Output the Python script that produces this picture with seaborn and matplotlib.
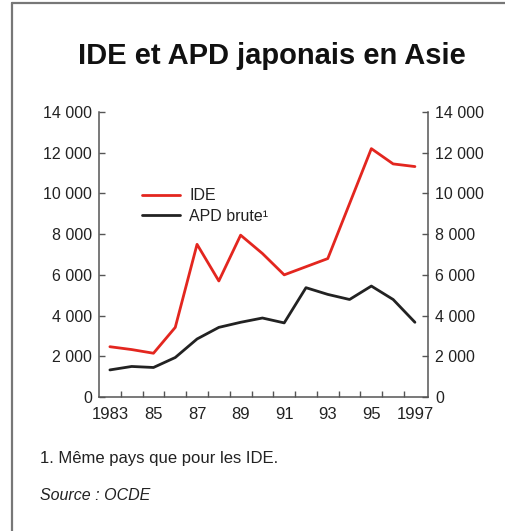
import matplotlib
matplotlib.use("Agg")
import matplotlib.pyplot as plt
import seaborn as sns
import pandas as pd
from matplotlib.lines import Line2D

years = list(range(1983, 1998))
ide = [2470, 2330, 2150, 3420, 7500, 5700, 7950, 7050, 6000, 6400, 6800, 9500, 12200, 11450, 11320]
apd = [1330, 1500, 1450, 1940, 2850, 3420, 3670, 3880, 3640, 5370, 5040, 4790, 5450, 4790, 3670]
series_names = ["IDE", "APD brute\u00b9"]
colors = ["#e3261f", "#222222"]
x_ticks = [1983, 1985, 1987, 1989, 1991, 1993, 1995, 1997]
x_labels = ["1983", "85", "87", "89", "91", "93", "95", "1997"]
y_ticks = [0, 2000, 4000, 6000, 8000, 10000, 12000, 14000]
y_labels = ["0", "2 000", "4 000", "6 000", "8 000", "10 000", "12 000", "14 000"]
title = "IDE et APD japonais en Asie"
note = "1. Même pays que pour les IDE."
source = "Source : OCDE"

sns.set_theme(style="white")
plt.rcParams['font.family'] = ['Liberation Sans', 'DejaVu Sans']

df = pd.DataFrame({
    "year": years * 2,
    "value": ide + apd,
    "series": [series_names[0]] * len(years) + [series_names[1]] * len(years),
})

fig = plt.figure(figsize=(5.05, 5.31), dpi=100)
ax = fig.add_axes([99/505, 1-397/531, (428-99)/505, (397-112)/531])

sns.lineplot(data=df, x="year", y="value", hue="series", palette=colors,
             hue_order=series_names, linewidth=2.0, ax=ax, legend=False)

ax.set_xlim(1982.5, 1997.6)
ax.set_ylim(0, 14000)
ax.set_xlabel("")
ax.set_ylabel("")

ax.set_xticks(x_ticks)
ax.set_xticklabels(x_labels)
ax.set_xticks([y + 0.5 for y in range(1983, 1997)], minor=True)
ax.set_yticks(y_ticks)
ax.set_yticklabels(y_labels)

spine_color = "#555555"
for s in ["left", "right", "bottom"]:
    ax.spines[s].set_visible(True)
    ax.spines[s].set_color(spine_color)
    ax.spines[s].set_linewidth(1.1)
ax.spines["top"].set_visible(False)

ax.tick_params(axis="x", which="major", length=0, pad=7, labelsize=12, colors="#222222")
ax.tick_params(axis="x", which="minor", direction="in", length=4, width=1, color=spine_color, bottom=True)
ax.tick_params(axis="y", which="major", direction="in", length=4, width=1, color=spine_color,
               left=True, right=True, labelleft=True, labelright=True, pad=5,
               labelsize=11.5, labelcolor="#222222")

handles = [Line2D([0], [0], color=c, lw=2.0) for c in colors]
leg = ax.legend(handles, series_names, loc="upper left", bbox_to_anchor=(0.11, 0.755),
                frameon=False, fontsize=11.5, handlelength=2.4, handletextpad=0.6,
                labelspacing=0.35, borderaxespad=0)
for t in leg.get_texts():
    t.set_color("#222222")

fig.text(272/505, 1-56/531, title, ha="center", va="center", fontsize=21,
         fontweight="bold", family=["Liberation Sans Narrow", "Liberation Sans", "DejaVu Sans"],
         color="#111111")
fig.text(40/505, 1-458/531, note, ha="left", va="center", fontsize=12, color="#222222")
fig.text(40/505, 1-495/531, source, ha="left", va="center", fontsize=11.5, style="italic", color="#222222")

# frame
fig.add_artist(Line2D([12/505, 12/505], [0, 1-3/531], transform=fig.transFigure, color="#777777", lw=1.6))
fig.add_artist(Line2D([12/505, 1], [1-3/531, 1-3/531], transform=fig.transFigure, color="#777777", lw=1.6))

fig.savefig("out.png", dpi=100)
